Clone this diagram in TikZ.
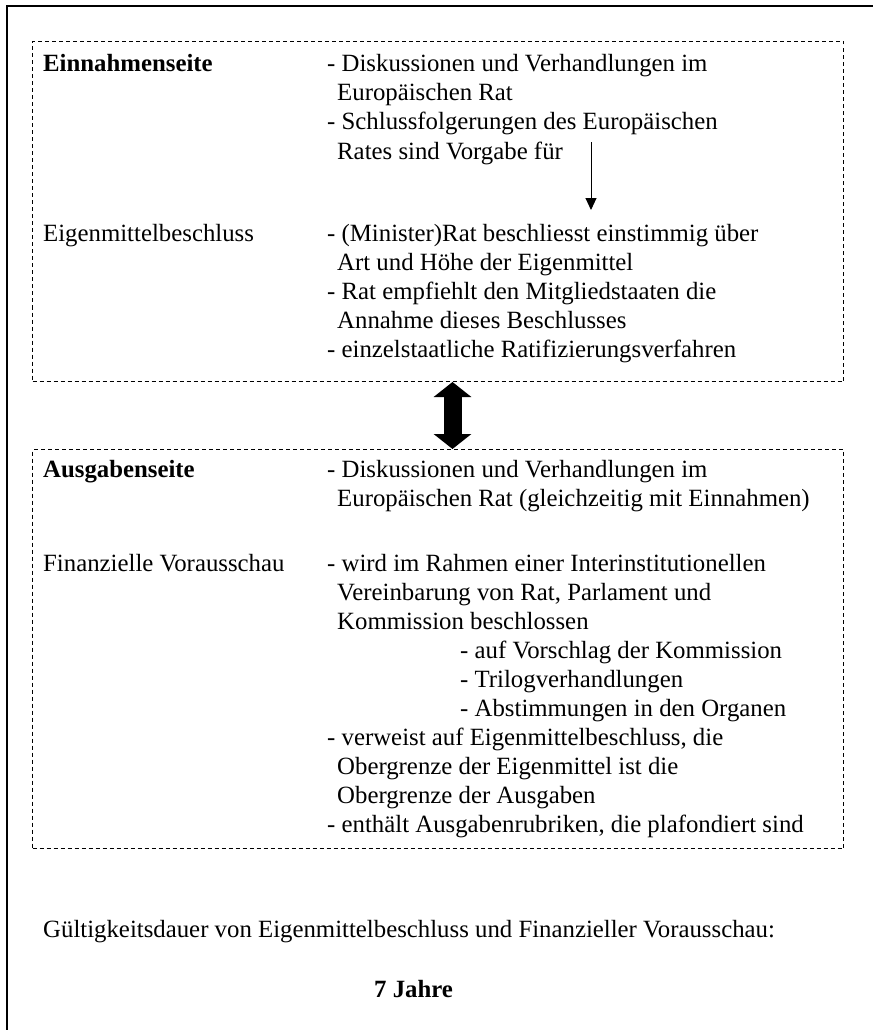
\documentclass[tikz,border=0pt]{standalone}
\usepackage{fontspec}
\setmainfont{Liberation Serif}
\usetikzlibrary{arrows.meta}

\tikzset{
	txt/.style={anchor=base west, inner sep=0pt, font=\fontsize{24.8}{29}\selectfont},
	kopf/.style={txt, font=\fontsize{24.8}{29}\selectfont\bfseries},
	dashbox/.style={draw, line width=1pt, dash pattern=on 4pt off 3pt, inner sep=0pt, anchor=north west},
	rahmen/.style={line width=1.5pt},
	doppelpfeil/.style={line width=18pt, {Triangle[width=37pt,length=15pt]}-{Triangle[width=37pt,length=15pt]}},
	pfeil/.style={line width=1pt, -{Triangle[width=11pt,length=12pt]}},
}

\begin{document}
\begin{tikzpicture}[x=1pt,y=-1pt]
				\useasboundingbox (0,0) rectangle (873,1030);
				\draw[rahmen] (7,1030) -- (7,6) -- (873,6);
				
				% Einnahmenseite
				\node[dashbox, minimum width=811pt, minimum height=340pt] (ein) at (32,41) {};
				\node[kopf] (einT) at (43,72) {Einnahmenseite};
				\node[txt] (e1) at (327,72) {- Diskussionen und Verhandlungen im};
				\node[txt] (e1b) at (337,101) {Europäischen Rat};
				\node[txt] (e2) at (327,130) {- Schlussfolgerungen des Europäischen};
				\node[txt] (e2b) at (337,159) {Rates sind Vorgabe für};
				\node[txt] (eigT) at (43,241) {Eigenmittelbeschluss};
				\node[txt] (e3) at (327,241) {- (Minister)Rat beschliesst einstimmig über};
				\node[txt] (e3b) at (337,270) {Art und Höhe der Eigenmittel};
				\node[txt] (e4) at (327,299) {- Rat empfiehlt den Mitgliedstaaten die};
				\node[txt] (e4b) at (337,328) {Annahme dieses Beschlusses};
				\node[txt] (e5) at (327,357) {- einzelstaatliche Ratifizierungsverfahren};
				
				\coordinate (vorgabe) at (591,142);
				\coordinate (beschluss) at (591,210);
				\draw[pfeil] (vorgabe) -- (beschluss);
				
				% Ausgabenseite
				\node[dashbox, minimum width=811pt, minimum height=399pt] (aus) at (32,449) {};
				\node[kopf] (ausT) at (43,477) {Ausgabenseite};
				\node[txt] (a1) at (327,477) {- Diskussionen und Verhandlungen im};
				\node[txt] (a1b) at (337,506) {Europäischen Rat (gleichzeitig mit Einnahmen)};
				\node[txt] (finT) at (43,571) {Finanzielle Vorausschau};
				\node[txt] (a2) at (327,571) {- wird im Rahmen einer Interinstitutionellen};
				\node[txt] (a2b) at (337,600) {Vereinbarung von Rat, Parlament und};
				\node[txt] (a2c) at (337,629) {Kommission beschlossen};
				\node[txt] (s1) at (460,658) {- auf Vorschlag der Kommission};
				\node[txt] (s2) at (460,687) {- Trilogverhandlungen};
				\node[txt] (s3) at (460,716) {- Abstimmungen in den Organen};
				\node[txt] (a3) at (327,745) {- verweist auf Eigenmittelbeschluss, die};
				\node[txt] (a3b) at (337,774) {Obergrenze der Eigenmittel ist die};
				\node[txt] (a3c) at (337,803) {Obergrenze der Ausgaben};
				\node[txt] (a4) at (327,832) {- enthält Ausgabenrubriken, die plafondiert sind};
				
				\draw[doppelpfeil] ([xshift=14.5pt]ein.south) -- ([xshift=14.5pt]aus.north);
				
				% Dauer
				\node[txt] (dauer) at (43,937) {Gültigkeitsdauer von Eigenmittelbeschluss und Finanzieller Vorausschau:};
				\node[kopf] (jahre) at (374,997) {7 Jahre};
			\end{tikzpicture}
\end{document}
